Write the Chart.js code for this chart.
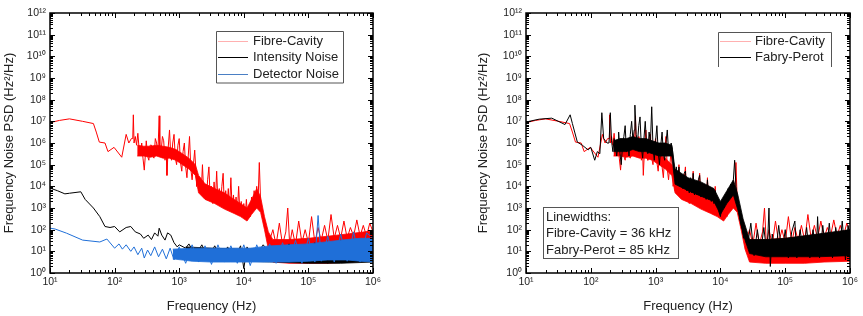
<!DOCTYPE html>
<html lang="en">
<head>
<meta charset="UTF-8" />
<title>Frequency Noise PSD</title>
<script src="https://cdn.jsdelivr.net/npm/chart.js@4.4.1/dist/chart.umd.min.js"></script>
<style>
  body { margin: 0; background: #fff; }
  .panel { position: absolute; top: 0; height: 316px; }
  #leftPanel { left: 0; width: 395px; }
  #rightPanel { left: 430px; width: 433px; }
</style>
</head>
<body>
<div class="panel" id="leftPanel"><canvas id="psdLeft" width="395" height="316"></canvas></div>
<div class="panel" id="rightPanel"><canvas id="psdRight" width="433" height="316"></canvas></div>

<script>
// ---- axis ticks ----
const xTickValues = [1e1, 1e2, 1e3, 1e4, 1e5, 1e6];
const xTickLabels = ["10¹", "10²", "10³", "10⁴", "10⁵", "10⁶"];
const yTickValues = [1e0, 1e1, 1e2, 1e3, 1e4, 1e5, 1e6, 1e7, 1e8, 1e9, 1e10, 1e11, 1e12];
const yTickLabels = ["10⁰", "10¹", "10²", "10³", "10⁴", "10⁵", "10⁶", "10⁷", "10⁸", "10⁹", "10¹⁰", "10¹¹", "10¹²"];

// ---- Fibre-Cavity (red), used in both panels ----
const fcFreq = [10, 14, 20, 32, 47, 52, 58, 71, 79, 98, 129, 151, 166, 182,
  191, 195, 200, 209, 219, 229, 240, 251, 263, 275, 288, 302, 309, 324, 339, 355, 372, 389, 407, 427,
  447, 468, 490, 501, 525, 550, 575, 603, 631, 646, 676, 708, 741, 759, 794, 832, 871, 912, 955, 1000,
  1047, 1096, 1148, 1202, 1259, 1318, 1380, 1445, 1514, 1585, 1660, 1738, 1820, 1862, 1950, 1995,
  2089, 2188, 2291, 2399, 2512, 2630, 2754, 2884, 3020, 3162, 3311, 3467, 3631, 3802, 3981, 4169, 4365,
  4571, 4786, 5012, 5248, 5495, 5754, 6026, 6310, 6607, 6918, 7244, 7586, 7943, 8318, 8710, 9120, 9550,
  10000, 10471, 10965, 11482, 12023, 12589, 13183, 13804, 14454, 15136, 15849, 16596, 17378, 18197,
  19055, 19953, 20893, 21878, 22909, 23988,
  25100, 28200, 31600, 35500, 39800, 44700, 47900, 51300, 56200, 63100, 70800, 79400, 89100, 1e5, 1.12e5,
  1.26e5, 1.41e5, 1.58e5, 1.78e5, 2e5, 2.24e5, 2.51e5, 2.82e5, 3.16e5, 3.55e5, 3.98e5, 4.47e5, 5.01e5,
  5.62e5, 6.31e5, 7.08e5, 7.94e5, 8.91e5, 1e6];
const fcPsd = [8.7e6, 1.1e7, 1.3e7, 1.0e7, 7.9e6, 3.2e6, 1.1e6, 1.0e6, 4.0e5, 6.3e5, 2.2e5, 2.5e6, 1.0e6, 1.6e6,
  1.6e6, 2.0e7, 1.0e6, 2.0e6, 7.9e5, 2.8e6, 5.0e5, 3.2e5, 1.0e6, 2.0e5, 5.6e4, 4.0e5, 1.26e6, 2.5e5, 1.6e5, 7.9e5, 7.9e5, 2.5e5, 2.0e5, 1.6e6,
  1.0e6, 3.2e5, 1.8e7, 6.3e5, 4.0e5, 2.0e6, 1.26e6, 1.6e5, 4.0e5, 3.2e4, 6.3e5, 4.0e6, 2.5e5, 1.6e5, 1.0e6, 2.5e6, 2.0e5, 1.0e5, 7.9e5, 1.6e6,
  1.26e5, 5.0e4, 4.0e5, 1.0e6, 7.9e4, 2.5e4, 2.5e5, 2.0e6, 6.3e4, 2.0e4, 1.0e5, 4.7e5, 4.0e4, 1.0e4, 2.5e4, 6.3e3,
  2.5e4, 5.0e3, 1.0e5, 4.0e3, 1.26e4, 2.5e3, 2.0e4, 7.9e4, 2.5e3, 1.0e4, 1.6e3, 1.6e4, 2.0e3, 5.0e4, 1.6e3, 7.9e3, 1.26e3,
  1.0e4, 4.0e4, 1.0e3, 6.3e3, 1.0e3, 7.9e3, 1.0e3, 2.5e4, 790, 4.0e3, 630, 3.2e3, 500, 1.0e4, 500, 2.0e3, 400,
  1.6e3, 316, 2.5e3, 316, 1.26e3, 400, 3.2e3, 790, 6.3e3, 1.26e3, 1.0e4, 1.6e3, 1.26e5, 2.0e3,
  790, 400, 158, 100, 50, 40,
  32, 100, 20, 200, 20, 79, 1000, 20, 100, 20, 250, 25, 100, 25, 400,
  25, 126, 32, 158, 32, 500, 40, 158, 40, 250, 40, 126, 50,
  282, 50, 158, 50, 200, 79];
const fcBandFreq = [224, 282, 355, 447, 562, 708, 891, 1122, 1413, 1778,
  1995, 2512, 3548, 5012, 7079, 8913, 11220, 13183, 15849, 18197, 20893, 23988, 28184,
  50119, 1e5, 199526, 398107, 1e6];
const fcBandLo = [2.5e5, 2.5e5, 2.2e5, 2.5e5, 2.0e5, 2.0e5, 1.6e5, 1.0e5, 6.3e4, 3.2e4,
  5.0e3, 2.5e3, 1.6e3, 890, 560, 400, 250, 500, 1000, 630, 100, 12.6, 3.2,
  2.8, 2.8, 2.8, 3.2, 3.5];
const fcBandHi = [7.9e5, 7.1e5, 7.1e5, 7.9e5, 7.1e5, 6.3e5, 5.0e5, 3.2e5, 2.0e5, 1.0e5,
  3.2e4, 1.3e4, 7.9e3, 5.0e3, 2.5e3, 1.6e3, 1.0e3, 2.5e3, 7.9e3, 3.2e3, 400, 79, 35,
  35, 40, 50, 63, 89];

// ---- Intensity Noise (black, left panel) ----
const inFreq = [10, 13, 17, 20, 30, 35, 47, 59, 71, 85, 100, 120, 151, 178, 209, 251, 282, 331, 372, 417,
  468, 490, 537, 603, 661, 741, 832, 933, 1000, 1259, 1413, 1778, 2239, 2818, 3548, 4467, 5623, 7079, 8913,
  10000, 11220, 14125, 19953, 31623, 50119, 79433, 125893, 199526, 316228, 501187, 794328, 1e6];
const inPsd = [8300, 6300, 4500, 4800, 5600, 2500, 1000, 400, 140, 126, 140, 79, 126, 140, 79, 63, 40, 56, 35, 71,
  50, 117, 56, 33, 71, 56, 25, 16, 20, 14, 22, 6.3, 20, 5, 18, 5, 16, 4, 18,
  1.6, 16, 4, 20, 3.5, 22, 3.2, 25, 2.8, 32, 3.2, 32, 10];
const inBandFreq = [1259, 3162, 1e4, 31623, 1e5, 316228, 1e6];
const inBandLo = [5, 4, 3.5, 3.2, 2.8, 2.8, 3.2];
const inBandHi = [16, 14, 12.6, 14, 20, 28, 32];

// ---- Detector Noise (blue, left panel) ----
const dnFreq = [10, 12, 18, 32, 59, 76, 100, 117, 132, 151, 178, 200, 229, 263, 288, 324, 363, 417, 479, 550,
  631, 724, 832, 1000, 1259, 1585, 1995, 2512, 3162, 3981, 5012, 6310, 7943, 10000, 12589, 15849, 19953,
  25119, 31623, 39811, 50119, 63096, 79433, 1e5, 125893, 141254, 158489, 199526, 251189, 316228, 398107,
  501187, 630957, 794328, 1e6];
const dnPsd = [117, 107, 69, 33, 27, 37, 14, 22, 12.6, 20, 10, 16, 7, 14, 4.9, 11.5, 6.3, 16, 5.6, 12.6,
  4.5, 14, 4, 16, 2.8, 20, 3.2, 18, 2.5, 20, 3.2, 18, 2.8, 20, 2.2, 20, 3.2,
  22, 2.8, 25, 3.2, 32, 2.8, 40, 3.2, 450, 3.5, 50, 3.2, 63, 3.5,
  79, 3.2, 71, 40];
const dnBandFreq = [794, 1585, 3162, 6310, 12589, 25119, 50119, 1e5, 199526, 398107, 630957, 1e6];
const dnBandLo = [4.5, 3.5, 3.2, 3.2, 3.2, 3.2, 3.2, 3.5, 4, 4, 3.5, 3.2];
const dnBandHi = [12.6, 14, 14, 14, 14, 17.8, 20, 22, 28, 35, 40, 40];

// ---- Fabry-Perot (black, right panel) ----
const fpFreq = [10, 16, 25, 40, 48, 52, 62, 74, 91, 100, 115, 126, 138, 148, 158, 178,
  191, 200, 209, 219, 229, 240, 251, 263, 269, 282, 295, 309, 324, 339, 355, 372, 389, 407, 427, 447,
  468, 479, 501, 525, 550, 575, 603, 631, 661, 692, 724, 759, 794, 832, 871, 912, 955, 1000, 1047, 1096,
  1148, 1202, 1259, 1318, 1380, 1445, 1514, 1585, 1660, 1738, 1820, 1950, 1995,
  2089, 2188, 2291, 2399, 2512, 2630, 2754, 2884, 3020, 3162, 3311, 3467, 3631, 3802, 3981, 4169, 4365,
  4571, 4786, 5012, 5248, 5495, 5754, 6026, 6310, 6607, 6918, 7244, 7586, 7943, 8318, 8710, 9120, 9550,
  10000, 10471, 10965, 11482, 12023, 12589, 13183, 13804, 14454, 15136, 15849, 16596, 17378, 18197,
  19055, 19953, 20893, 21878, 22909, 23988, 25119,
  26300, 29500, 33100, 37200, 41700, 46800, 52500, 56200, 58900, 63100, 70800, 79400, 89100, 1e5, 1.12e5,
  1.26e5, 1.41e5, 1.51e5, 1.70e5, 1.91e5, 2.14e5, 2.40e5, 2.69e5, 3.02e5, 3.16e5, 3.39e5, 3.80e5, 4.27e5,
  4.79e5, 5.37e5, 6.03e5, 6.76e5, 7.59e5, 8.51e5, 9.33e5, 1e6];
const fpPsd = [9.3e6, 1.26e7, 1.4e7, 7.1e6, 2.0e7, 7.9e6, 1.1e6, 7.9e5, 4.8e5, 6.3e5, 1.6e5, 4.0e5, 3.2e5, 2.5e7, 1.6e6, 1.0e6,
  1.0e6, 2.5e7, 1.26e6, 4.0e5, 1.6e6, 7.9e5, 2.5e5, 1.0e6, 3.2e6, 3.2e5, 1.0e5, 7.9e5, 2.0e6, 6.3e6, 4.0e5, 1.0e6, 2.5e5, 2.5e6, 1.0e7, 1.26e6,
  4.0e6, 5.6e7, 2.5e6, 1.0e6, 6.3e6, 1.6e7, 6.3e5, 2.0e5, 1.6e6, 1.0e7, 1.0e6, 3.2e5, 3.2e6, 1.0e6, 4.7e7, 6.3e5, 1.6e5, 1.26e6, 6.3e6, 4.0e5,
  1.0e5, 7.9e5, 3.2e6, 3.2e5, 1.6e5, 1.0e6, 4.0e6, 4.0e5, 2.5e5, 1.0e6, 5.0e5, 4.0e4, 2.5e4,
  7.9e4, 1.6e4, 7.9e4, 1.0e4, 3.2e4, 7.9e3, 4.0e4, 5.0e4, 6.3e3, 2.0e4, 5.0e3, 2.5e4, 5.0e3, 4.0e4, 4.0e3, 1.6e4, 4.0e3,
  2.0e4, 3.2e4, 3.2e3, 1.26e4, 3.2e3, 1.0e4, 2.5e3, 2.0e4, 2.5e3, 7.9e3, 2.0e3, 6.3e3, 1.6e3, 6.3e3, 1.26e3, 2.5e3, 630,
  400, 1.0e3, 2.5e3, 1.0e3, 4.0e3, 2.0e3, 7.9e3, 4.0e3, 1.26e4, 6.3e3, 2.0e4, 1.6e5, 1.0e4, 3.2e3,
  1.0e3, 316, 158, 100, 40, 63, 25,
  20, 200, 6.3, 100, 7.9, 126, 6.3, 1000, 2.0, 63, 6.3, 158, 6.3, 100, 5,
  79, 250, 5, 100, 6.3, 126, 5, 100, 6.3, 400, 5, 158, 6.3,
  200, 5, 126, 6.3, 250, 4, 158, 40];
const fpBandFreq = [224, 282, 355, 447, 562, 708, 891, 1122, 1413, 1778,
  1995, 3162, 5012, 7943, 1e4, 12589, 15849, 18621, 22387, 28184, 50119, 1e5, 316228, 1e6];
const fpBandLo = [4.0e5, 4.0e5, 4.0e5, 5.0e5, 4.0e5, 4.0e5, 3.2e5, 2.5e5, 2.5e5, 2.5e5,
  1.26e4, 6.3e3, 3.5e3, 2.0e3, 500, 1.6e3, 4.0e3, 790, 63, 7.9, 5.6, 5.6, 5.6, 6.3];
const fpBandHi = [1.26e6, 1.6e6, 1.6e6, 2.0e6, 1.6e6, 1.6e6, 1.26e6, 1.0e6, 1.0e6, 7.9e5,
  6.3e4, 2.5e4, 1.6e4, 7.9e3, 2.0e3, 6.3e3, 2.0e4, 4.0e3, 316, 35, 35, 40, 63, 100];

const leftLegendLabels = ["Fibre-Cavity", "Intensity Noise", "Detector Noise"];
const rightLegendLabels = ["Fibre-Cavity", "Fabry-Perot"];
const noteLines = ["Linewidths:", "Fibre-Cavity = 36 kHz", "Fabry-Perot = 85 kHz"];

// ---- helpers ----
const RED = "#ff0000";
const BLACK = "#000000";
const BLUE = "#1f6fd8";
const FONT = '"Liberation Sans", Arial, sans-serif';

const toXY = (f, v) => f.map((x, i) => ({ x: x, y: v[i] }));

const trace = (label, f, v, color, order) => ({
  label: label,
  data: toXY(f, v),
  borderColor: color,
  borderWidth: 1,
  pointRadius: 0,
  fill: false,
  order: order,
});

// noise band: upper envelope filled down to the lower one
const band = (f, lo, hi, color, order) => [
  { label: "", data: toXY(f, hi), borderColor: color, backgroundColor: color, borderWidth: 0.8,
    pointRadius: 0, fill: "+1", order: order },
  { label: "", data: toXY(f, lo), borderColor: color, borderWidth: 0.8, pointRadius: 0, fill: false, order: order },
];

const scales = (yWidth) => ({
  x: {
    type: "logarithmic",
    min: 10,
    max: 1e6,
    grid: { display: false, drawTicks: false },
    border: { display: false },
    afterBuildTicks: (s) => { s.ticks = xTickValues.map((v) => ({ value: v })); },
    afterFit: (s) => { s.height = 43; },
    ticks: {
      autoSkip: false, maxRotation: 0, padding: 3, color: "#222",
      font: { family: FONT, size: 10.5 },
      callback: (v, i) => xTickLabels[i],
    },
    title: {
      display: true, text: "Frequency (Hz)", color: "#222",
      font: { family: FONT, size: 13 }, padding: { top: 0, bottom: 2 },
    },
  },
  y: {
    type: "logarithmic",
    min: 1,
    max: 1e12,
    grid: { display: false, drawTicks: false },
    border: { display: false },
    afterBuildTicks: (s) => { s.ticks = yTickValues.map((v) => ({ value: v })); },
    afterFit: (s) => { s.width = yWidth; },
    ticks: {
      autoSkip: false, padding: 4, color: "#222",
      font: { family: FONT, size: 10.5 },
      callback: (v, i) => yTickLabels[i],
    },
    title: {
      display: true, text: "Frequency Noise PSD (Hz²/Hz)", color: "#222",
      font: { family: FONT, size: 13 }, padding: { top: 2, bottom: 0 },
    },
  },
});

// frame, inward minor ticks, legend and text box
const decoPlugin = {
  id: "deco",
  afterDraw(chart, args, opts) {
    const { ctx, chartArea: a, scales: { x, y } } = chart;
    ctx.save();
    ctx.strokeStyle = "#000";
    ctx.lineWidth = 1;
    ctx.beginPath();
    for (let d = 1; d <= 6; d++) {
      for (let k = 1; k <= 9; k++) {
        const v = k * Math.pow(10, d);
        if (v > 1e6) break;
        const px = Math.round(x.getPixelForValue(v)) + 0.5;
        const len = k === 1 ? 5 : 3;
        ctx.moveTo(px, a.bottom); ctx.lineTo(px, a.bottom - len);
        ctx.moveTo(px, a.top); ctx.lineTo(px, a.top + len);
      }
    }
    for (let d = 0; d <= 12; d++) {
      for (let k = 1; k <= 9; k++) {
        const v = k * Math.pow(10, d);
        if (v > 1e12) break;
        const py = Math.round(y.getPixelForValue(v)) + 0.5;
        const len = k === 1 ? 5 : 3;
        ctx.moveTo(a.left, py); ctx.lineTo(a.left + len, py);
        ctx.moveTo(a.right, py); ctx.lineTo(a.right - len, py);
      }
    }
    ctx.stroke();
    ctx.lineWidth = 1.5;
    ctx.strokeRect(a.left, a.top, a.width, a.height);

    // legend
    const lg = opts.legend;
    ctx.lineWidth = 1;
    ctx.strokeStyle = "#555";
    ctx.beginPath();
    ctx.moveTo(lg.box[0] + 0.5, lg.box[3]);
    ctx.lineTo(lg.box[0] + 0.5, lg.box[1] + 0.5);
    ctx.lineTo(lg.box[2] + 0.5, lg.box[1] + 0.5);
    ctx.lineTo(lg.box[2] + 0.5, lg.box[3]);
    if (lg.closed) ctx.lineTo(lg.box[0] + 0.5, lg.box[3]);
    ctx.stroke();
    ctx.font = "13px " + FONT;
    ctx.textBaseline = "middle";
    ctx.fillStyle = "#222";
    lg.labels.forEach((lab, i) => {
      const yy = lg.rows[i] + 0.5;
      ctx.strokeStyle = lg.colors[i];
      ctx.lineWidth = 1;
      ctx.beginPath();
      ctx.moveTo(lg.line[0], yy);
      ctx.lineTo(lg.line[1], yy);
      ctx.stroke();
      ctx.fillText(lab, lg.textX, yy);
    });

    // text box
    if (opts.note) {
      const n = opts.note;
      ctx.fillStyle = "#fff";
      ctx.fillRect(n.box[0], n.box[1], n.box[2] - n.box[0], n.box[3] - n.box[1]);
      ctx.strokeStyle = "#555";
      ctx.strokeRect(n.box[0] + 0.5, n.box[1] + 0.5, n.box[2] - n.box[0], n.box[3] - n.box[1]);
      ctx.fillStyle = "#222";
      n.lines.forEach((t, i) => ctx.fillText(t, n.textX, n.rows[i]));
    }
    ctx.restore();
  },
};

const baseOptions = (yWidth, padLeft, padRight, deco) => ({
  responsive: false,
  animation: false,
  devicePixelRatio: 1,
  layout: { padding: { left: padLeft, right: padRight, top: 13, bottom: 0 } },
  scales: scales(yWidth),
  plugins: {
    legend: { display: false },
    tooltip: { enabled: false },
    deco: deco,
  },
  elements: { line: { tension: 0 } },
});

// ---- left panel ----
new Chart(document.getElementById("psdLeft"), {
  type: "line",
  data: {
    datasets: [
      trace("Detector Noise", dnFreq, dnPsd, BLUE, 1),
      ...band(dnBandFreq, dnBandLo, dnBandHi, BLUE, 1),
      trace("Intensity Noise", inFreq, inPsd, BLACK, 2),
      ...band(inBandFreq, inBandLo, inBandHi, BLACK, 2),
      trace("Fibre-Cavity", fcFreq, fcPsd, RED, 3),
      ...band(fcBandFreq, fcBandLo, fcBandHi, RED, 3),
    ],
  },
  options: baseOptions(50, 0, 22, {
    legend: {
      labels: leftLegendLabels,
      colors: ["#ffb0b0", "#000", "#4a7fc4"],
      box: [216, 31, 343, 83], closed: true,
      rows: [41, 57, 74], line: [218, 248], textX: 253,
    },
  }),
  plugins: [decoPlugin],
});

// ---- right panel ----
new Chart(document.getElementById("psdRight"), {
  type: "line",
  data: {
    datasets: [
      trace("Fabry-Perot", fpFreq, fpPsd, BLACK, 1),
      ...band(fpBandFreq, fpBandLo, fpBandHi, BLACK, 1),
      trace("Fibre-Cavity", fcFreq, fcPsd, RED, 2),
      ...band(fcBandFreq, fcBandLo, fcBandHi, RED, 2),
    ],
  },
  options: baseOptions(52, 44, 13, {
    legend: {
      labels: rightLegendLabels,
      colors: ["#ffb0b0", "#000"],
      box: [288, 32, 401, 67], closed: false,
      rows: [41, 57], line: [290, 321], textX: 325,
    },
    note: {
      box: [113, 207, 248, 258],
      lines: noteLines, rows: [217, 233, 250], textX: 116,
    },
  }),
  plugins: [decoPlugin],
});
</script>
</body>
</html>
